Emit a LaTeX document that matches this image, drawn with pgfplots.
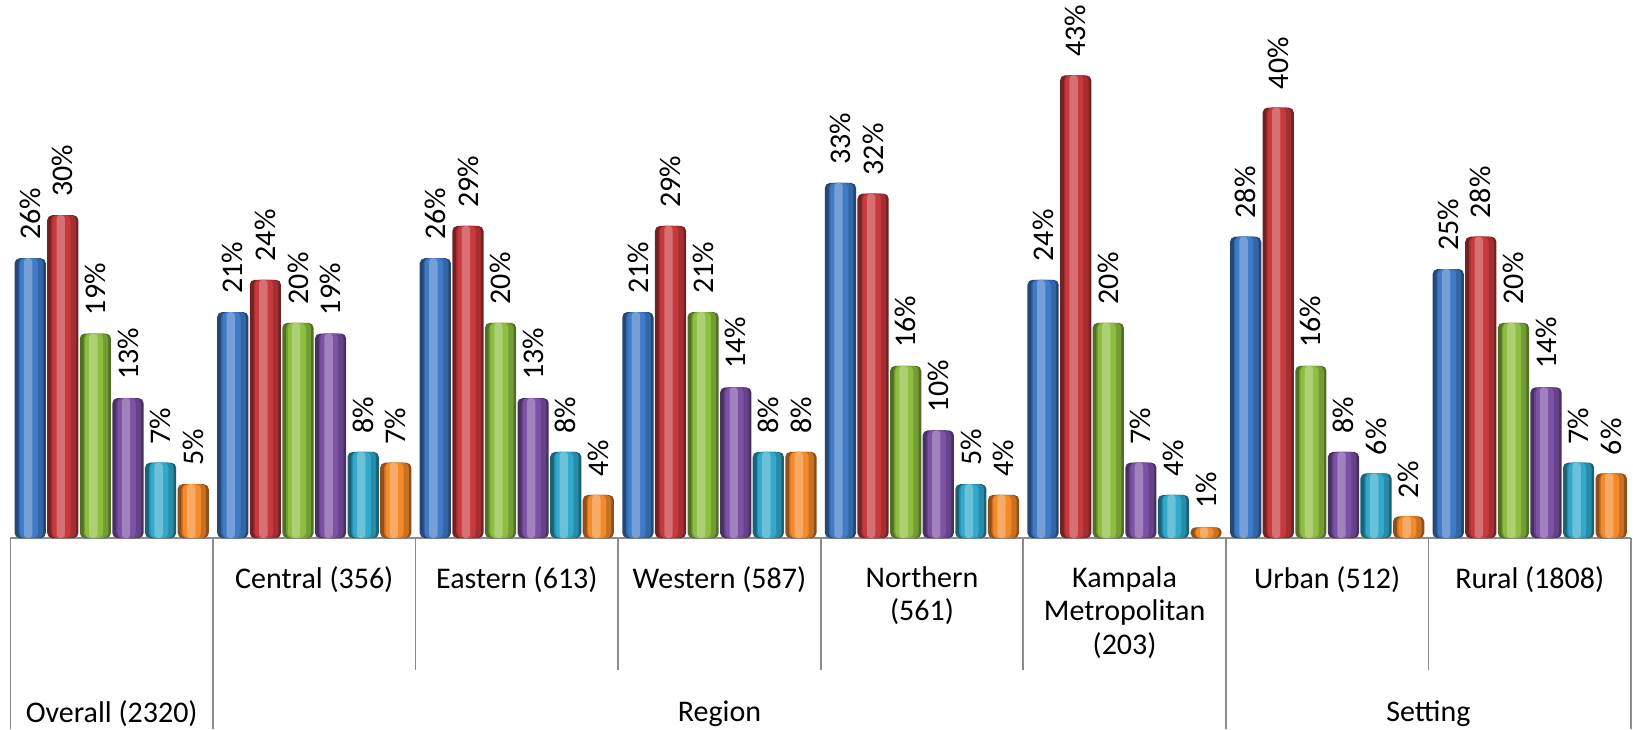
\documentclass[border=0pt]{standalone}
\usepackage{pgfplots}
\usepackage{pgfplotstable}
\pgfplotsset{compat=1.18}
\usepackage{fontspec}
\setmainfont{Carlito}

\definecolor{cBlue}{HTML}{3F7BC8}
\definecolor{cRed}{HTML}{C8393D}
\definecolor{cGreen}{HTML}{8CBF3F}
\definecolor{cPurple}{HTML}{7C52A6}
\definecolor{cCyan}{HTML}{31A9CC}
\definecolor{cOrange}{HTML}{F58A2A}
\definecolor{sepgray}{HTML}{8C8C8C}

\newcommand{\lbl}{\fontsize{15}{16.7}\selectfont}

% percentages per group: Overall, Central, Eastern, Western, Northern, Kampala, Urban, Rural
\pgfplotstableread{
grp blue red green purple cyan orange
0   26   30  19    13     7    5
1   21   24  20    19     8    7
2   26   29  20    13     8    4
3   21   29  21    14     8    8
4   33   32  16    10     5    4
5   24   43  20     7     4    1
6   28   40  16     8     6    2
7   25   28  20    14     7    6
}\data

% one cylinder-looking series: dark rim, body, lighter core and a highlight strip
% #1 column, #2 colour, #3 bar centre shift in pt
\newcommand{\cylseries}[3]{%
  \addplot[bar shift=#3pt, bar width=15.6pt, fill=#2!58!black, draw=none, rounded corners=2.5pt,
           nodes near coords={\pgfmathprintnumber{\pgfplotspointmeta}\%}] table[x=grp, y=#1] {\data};
  \addplot[bar shift=#3pt+0.3pt, bar width=12.4pt, fill=#2!82!black, draw=none, rounded corners=2.5pt]
           table[x=grp, y=#1] {\data};
  \addplot[bar shift=#3pt-0.6pt, bar width=9pt, fill=#2, draw=none, rounded corners=2.5pt]
           table[x=grp, y=#1] {\data};
  \addplot[bar shift=#3pt-1pt, bar width=4.2pt, fill=#2!72!white, draw=none, rounded corners=1.8pt]
           table[x=grp, y=#1] {\data};
}

\begin{document}
\begin{tikzpicture}
\begin{axis}[
  scale only axis, width=810.3pt, height=269pt,
  xmin=-0.5, xmax=7.5, ymin=0, ymax=50,
  ybar,
  axis x line*=bottom, axis y line=none,
  x axis line style={draw=sepgray, line width=0.8pt},
  xtick={0,...,7}, major tick length=0pt,
  xticklabels={{}, {Central (356)}, {Eastern (613)}, {Western (587)}, {Northern\\(561)}, {Kampala\\Metropolitan\\(203)}, {Urban (512)}, {Rural (1808)}},
  xticklabel style={anchor=north, inner sep=0pt, yshift=-14pt, align=center, font=\lbl},
  /pgf/number format/assume math mode=true,
  every node near coord/.append style={rotate=90, anchor=west, inner xsep=9pt, inner ysep=0pt, font=\lbl, text=black},
  clip=false,
]
\cylseries{blue}{cBlue}{-40.75}
\cylseries{red}{cRed}{-24.45}
\cylseries{green}{cGreen}{-8.15}
\cylseries{purple}{cPurple}{8.15}
\cylseries{cyan}{cCyan}{24.45}
\cylseries{orange}{cOrange}{40.75}

% category separators: full height between the outer groups, shorter inside them
\pgfplotsinvokeforeach{-0.5,0.5,5.5,7.5}{
  \draw[sepgray, line width=0.8pt] (axis cs:#1,0) -- ++(0pt,-95.5pt);
}
\pgfplotsinvokeforeach{1.5,2.5,3.5,4.5,6.5}{
  \draw[sepgray, line width=0.8pt] (axis cs:#1,0) -- ++(0pt,-66pt);
}

% outer grouping labels
\node[font=\lbl, yshift=-88pt] at (axis cs:0,0) {Overall (2320)};
\node[font=\lbl, yshift=-88pt] at (axis cs:3,0) {Region};
\node[font=\lbl, yshift=-88pt] at (axis cs:6.5,0) {Setting};
\end{axis}
\pgfresetboundingbox
\path ([xshift=-5.2pt,yshift=-95.5pt]current axis.south west) rectangle ([xshift=1pt]current axis.north east);
\end{tikzpicture}
\end{document}
